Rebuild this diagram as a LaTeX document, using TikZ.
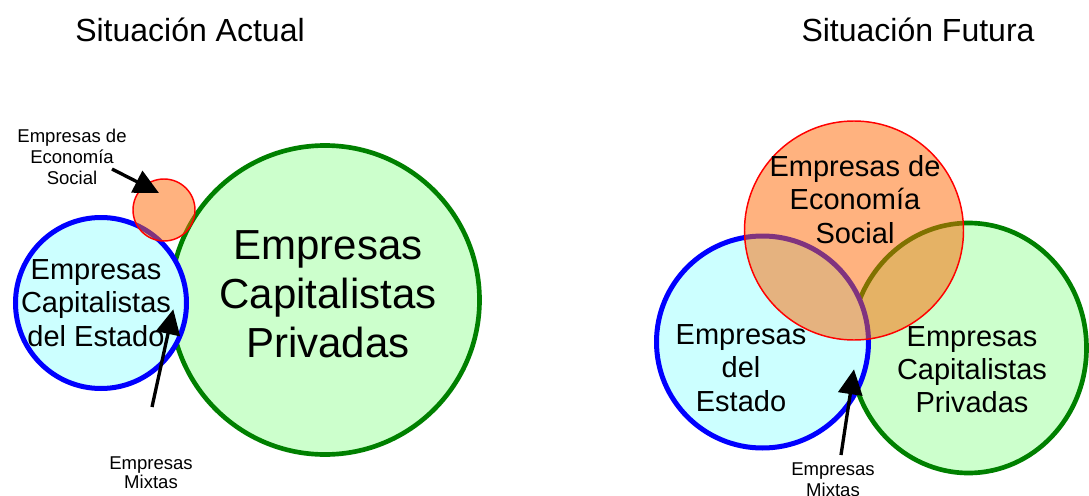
\documentclass[tikz,border=0pt]{standalone}
\usepackage{fontspec}
\setmainfont{Liberation Sans}
\definecolor{estblue}{RGB}{0, 0, 255}
\definecolor{estfill}{RGB}{204, 255, 255}
\definecolor{privgreen}{RGB}{0, 128, 0}
\definecolor{privfill}{RGB}{204, 255, 204}
\definecolor{socred}{RGB}{255, 0, 0}
\definecolor{socfill}{RGB}{255, 102, 0}
\usetikzlibrary{arrows.meta}

\begin{document}
\begin{tikzpicture}[x=0.75pt, y=-0.75pt,
  title/.style={anchor=base, inner sep=0pt, font=\fontsize{24}{28}\selectfont},
  big/.style={align=center, inner sep=0pt, font=\fontsize{31.5}{36.75}\selectfont},
  mid/.style={align=center, inner sep=0pt, font=\fontsize{21.75}{25}\selectfont},
  small/.style={align=center, inner sep=0pt, font=\fontsize{13.9}{16}\selectfont},
  estado/.style={draw=estblue, fill=estfill, line width=3.75pt},
  privada/.style={draw=privgreen, fill=privfill, line width=3.5pt},
  social/.style={draw=socred, fill=socfill, fill opacity=0.5, line width=1.1pt},
  arrow/.style={-{Triangle[length=18.75pt, width=18pt]}, line width=2.5pt}
]
  \useasboundingbox (0, 0) rectangle (1089, 496);

  % Titles
  \node[title] (actual) at (190, 41) {Situación Actual};
  \node[title] (futura) at (918, 41) {Situación Futura};

  % Situacion actual
  \coordinate (cpa) at (325, 300);
  \coordinate (cea) at (101, 303);
  \coordinate (esa) at (164, 210);
  \path[privada] (cpa) circle[radius=154.5];
  \path[estado] (cea) circle[radius=85.5];
  \path[social] (esa) circle[radius=31];

  \node[big] (cpaText) at (328, 294) {Empresas\\Capitalistas\\Privadas};
  \node[mid] (ceaText) at (96, 303) {Empresas\\Capitalistas\\del Estado};
  \node[small] (esaLabel) at (72, 157) {Empresas de\\Economía\\Social};
  \node[small, font=\fontsize{13.9}{14.5}\selectfont] (mxaLabel) at (151, 473) {Empresas\\Mixtas};

  \coordinate (esaTail) at (112, 169);
  \coordinate (esaTip) at (159, 193);
  \coordinate (mxaTail) at (152, 407);
  \coordinate (mxaTip) at (173.3, 309.3);
  \draw[arrow] (esaTail) -- (esaTip);
  \draw[arrow] (mxaTail) -- (mxaTip);

  % Situacion futura
  \coordinate (cpf) at (968.5, 348);
  \coordinate (cef) at (762.5, 342);
  \coordinate (esf) at (854, 230.5);
  \path[privada] (cpf) ellipse[x radius=118, y radius=125];
  \path[estado] (cef) circle[radius=106];
  \path[social] (esf) circle[radius=109.5];

  \node[mid] (esfText) at (855, 199.6) {Empresas de\\Economía\\Social};
  \node[mid] (cefText) at (741, 368) {Empresas\\del\\Estado};
  \node[mid] (cpfText) at (972, 369.6) {Empresas\\Capitalistas\\Privadas};
  \node[small, font=\fontsize{13.9}{15.75}\selectfont] (mxfLabel) at (833, 479.7) {Empresas\\Mixtas};

  \coordinate (mxfTail) at (841, 455);
  \coordinate (mxfTip) at (854, 369.3);
  \draw[arrow] (mxfTail) -- (mxfTip);
\end{tikzpicture}
\end{document}
